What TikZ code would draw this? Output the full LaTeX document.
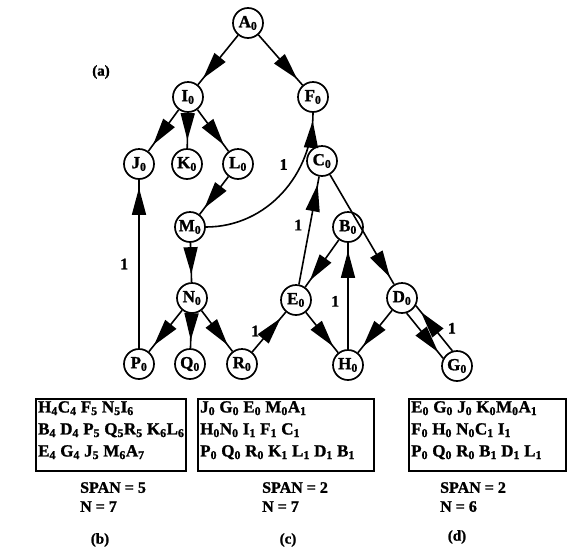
\documentclass[tikz,border=0pt]{standalone}
\usepackage{fontspec}
\setmainfont{Liberation Serif}[FakeBold=1.2]
\usetikzlibrary{arrows.meta,decorations.markings}

\begin{document}
\begin{tikzpicture}[x=1pt,y=-1pt,
  vtx/.style={circle,draw,line width=1.7pt,minimum size=30pt,inner sep=0pt,
    font=\bfseries\fontsize{17}{17}\selectfont},
  arr/.style={line width=1.6pt,postaction={decorate},
    decoration={markings,
      mark=at position -8pt with {\arrow{Triangle[length=27pt,width=14pt]}}}},
  lbl/.style={font=\bfseries\fontsize{16}{16}\selectfont,inner sep=1pt},
  listbox/.style={draw,line width=2.4pt,minimum height=72pt,inner sep=0pt},
  listtxt/.style={align=left,anchor=north west,inner sep=0pt,
    font=\bfseries\fontsize{17}{22}\selectfont},
  stat/.style={align=left,anchor=north west,inner sep=0pt,
    font=\bfseries\fontsize{16}{19}\selectfont},
  tag/.style={font=\bfseries\fontsize{15}{15}\selectfont}
]
\useasboundingbox (0,0) rectangle (567,552);

% vertices of the graph
\node[vtx] (A0) at (248,23)  {A\textsubscript{0}};
\node[vtx] (I0) at (188,97)  {I\textsubscript{0}};
\node[vtx] (F0) at (313,97)  {F\textsubscript{0}};
\node[vtx] (J0) at (139,164) {J\textsubscript{0}};
\node[vtx] (K0) at (187,164) {K\textsubscript{0}};
\node[vtx] (L0) at (238,164) {L\textsubscript{0}};
\node[vtx] (C0) at (322,161) {C\textsubscript{0}};
\node[vtx] (M0) at (190,227) {M\textsubscript{0}};
\node[vtx] (B0) at (348,227) {B\textsubscript{0}};
\node[vtx] (N0) at (192,298) {N\textsubscript{0}};
\node[vtx] (E0) at (296,300) {E\textsubscript{0}};
\node[vtx] (D0) at (402,298) {D\textsubscript{0}};
\node[vtx] (P0) at (139,364) {P\textsubscript{0}};
\node[vtx] (Q0) at (190,364) {Q\textsubscript{0}};
\node[vtx] (R0) at (242,364) {R\textsubscript{0}};
\node[vtx] (H0) at (348,365) {H\textsubscript{0}};
\node[vtx] (G0) at (457,366) {G\textsubscript{0}};

\node[tag] (ta) at (101,72) {(a)};

% edges
\draw[arr] (A0) -- (I0);
\draw[arr] (A0) -- (F0);
\draw[arr] (I0) -- (J0);
\draw[arr] (I0) -- (K0);
\draw[arr] (I0) -- (L0);
\draw[arr] (L0) -- (M0);
\draw[arr] (M0) -- (N0);
\draw[arr] (M0.east) to[out=0,in=-90] node[lbl,pos=0.7,left=12pt] {1} (F0.south);
\draw[arr] (P0) -- node[lbl,left=9pt] {1} (J0);
\draw[arr] (N0) -- (P0);
\draw[arr] (N0) -- (Q0);
\draw[arr] (N0) -- (R0);
\draw[arr] (R0) -- node[lbl,pos=0.5,left=8pt,yshift=1pt] {1} (E0);
\draw[arr] (E0) -- node[lbl,pos=0.55,left=6pt] {1} (C0);
\draw[arr] (B0) -- (E0);
\draw[arr] (E0) -- (H0);
\draw[arr] (H0) -- node[lbl,pos=0.45,left=7pt] {1} (B0);
\draw[arr] (C0) -- (D0);
\draw[arr] (D0) -- (H0);
\draw[arr] (D0.-73) -- (G0.151);
\draw[arr] (G0.107) -- node[lbl,pos=0.5,right=12pt] {1} (D0.-29);

% result lists
\node[listbox,minimum width=150pt,anchor=north west] (bb) at (35,398) {};
\node[listbox,minimum width=176pt,anchor=north west] (bc) at (197,398) {};
\node[listbox,minimum width=157pt,anchor=north west] (bd) at (408,398) {};

\node[listtxt] (tb) at ([shift={(3,3)}]bb.north west)
  {H\textsubscript{4}C\textsubscript{4} F\textsubscript{5} N\textsubscript{5}I\textsubscript{6}\\
   B\textsubscript{4} D\textsubscript{4} P\textsubscript{5} Q\textsubscript{5}R\textsubscript{5} K\textsubscript{6}L\textsubscript{6}\\
   E\textsubscript{4} G\textsubscript{4} J\textsubscript{5} M\textsubscript{6}A\textsubscript{7}};
\node[listtxt] (tc) at ([shift={(3,3)}]bc.north west)
  {J\textsubscript{0} G\textsubscript{0} E\textsubscript{0} M\textsubscript{0}A\textsubscript{1}\\
   H\textsubscript{0}N\textsubscript{0} I\textsubscript{1} F\textsubscript{1} C\textsubscript{1}\\
   P\textsubscript{0} Q\textsubscript{0} R\textsubscript{0} K\textsubscript{1} L\textsubscript{1} D\textsubscript{1} B\textsubscript{1}};
\node[listtxt] (td) at ([shift={(3,3)}]bd.north west)
  {E\textsubscript{0} G\textsubscript{0} J\textsubscript{0} K\textsubscript{0}M\textsubscript{0}A\textsubscript{1}\\
   F\textsubscript{0} H\textsubscript{0} N\textsubscript{0}C\textsubscript{1} I\textsubscript{1}\\
   P\textsubscript{0} Q\textsubscript{0} R\textsubscript{0} B\textsubscript{1} D\textsubscript{1} L\textsubscript{1}};

\node[stat] (sb) at (80,482) {SPAN = 5\\N = 7};
\node[stat] (sc) at (262,482) {SPAN = 2\\N = 7};
\node[stat] (sd) at (440,482) {SPAN = 2\\N = 6};

\node[tag] (lb) at (100,540) {(b)};
\node[tag] (lc) at (288,540) {(c)};
\node[tag] (ld) at (457,537) {(d)};
\end{tikzpicture}
\end{document}
